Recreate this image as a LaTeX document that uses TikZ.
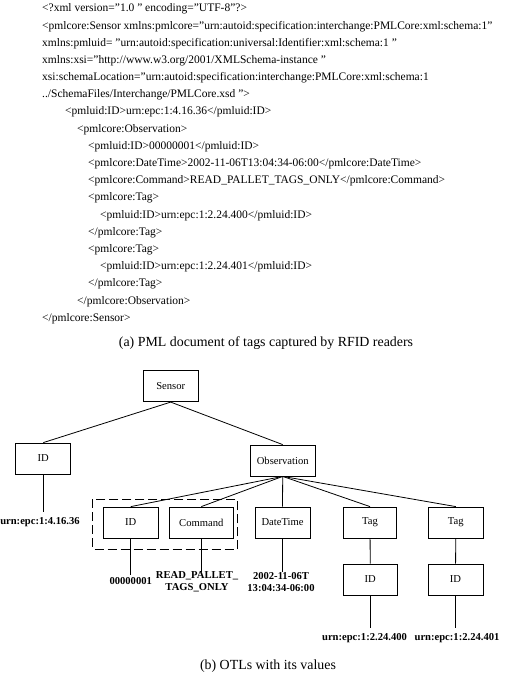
\documentclass[tikz,border=0pt]{standalone}
\usepackage{fontspec}
\setmainfont{Liberation Serif}
\usetikzlibrary{positioning}

\begin{document}
\begin{tikzpicture}[x=1pt,y=-1pt,
    xml/.style={anchor=west, inner sep=0pt, font=\fontsize{11.5}{13}\selectfont},
    box/.style={draw, line width=0.8pt, minimum width=55pt, minimum height=31pt, inner sep=0pt, font=\fontsize{10.6}{12}\selectfont},
    val/.style={align=center, inner sep=0pt, minimum height=20pt, font=\fontsize{10.6}{12}\selectfont\bfseries},
    link/.style={line width=0.8pt},
    captext/.style={font=\fontsize{13.9}{16}\selectfont}]
    \useasboundingbox (0,0) rectangle (508,676);

    % PML listing
    \node[xml] (l1) at (42,9) {<?xml version="1.0 " encoding="UTF-8"?>};
    \node[xml] (l2) at (42,26.2) {<pmlcore:Sensor xmlns:pmlcore="urn:autoid:specification:interchange:PMLCore:xml:schema:1"};
    \node[xml] (l3) at (42,43.4) {xmlns:pmluid= "urn:autoid:specification:universal:Identifier:xml:schema:1 "};
    \node[xml] (l4) at (42,60.6) {xmlns:xsi="http://www.w3.org/2001/XMLSchema-instance "};
    \node[xml] (l5) at (42,77.8) {xsi:schemaLocation="urn:autoid:specification:interchange:PMLCore:xml:schema:1};
    \node[xml] (l6) at (42,95) {../SchemaFiles/Interchange/PMLCore.xsd ">};
    \node[xml] (l7) at (65,112.2) {<pmluid:ID>urn:epc:1:4.16.36</pmluid:ID>};
    \node[xml] (l8) at (77,129.4) {<pmlcore:Observation>};
    \node[xml] (l9) at (88,146.6) {<pmluid:ID>00000001</pmluid:ID>};
    \node[xml] (l10) at (88,163.8) {<pmlcore:DateTime>2002-11-06T13:04:34-06:00</pmlcore:DateTime>};
    \node[xml] (l11) at (88,181) {<pmlcore:Command>READ\_PALLET\_TAGS\_ONLY</pmlcore:Command>};
    \node[xml] (l12) at (88,198.2) {<pmlcore:Tag>};
    \node[xml] (l13) at (100,215.4) {<pmluid:ID>urn:epc:1:2.24.400</pmluid:ID>};
    \node[xml] (l14) at (88,232.6) {</pmlcore:Tag>};
    \node[xml] (l15) at (88,249.8) {<pmlcore:Tag>};
    \node[xml] (l16) at (100,267) {<pmluid:ID>urn:epc:1:2.24.401</pmluid:ID>};
    \node[xml] (l17) at (88,284.2) {</pmlcore:Tag>};
    \node[xml] (l18) at (77,301.4) {</pmlcore:Observation>};
    \node[xml] (l19) at (42,318.6) {</pmlcore:Sensor>};
    \node[captext] (capa) at (266,342.7) {(a) PML document of tags captured by RFID readers};

    % OTL tree
    \node[box] (sensor) at (170.7,386.2) {Sensor};
    \node[box] (id) at (43.3,458.5) {ID};
    \node[box, minimum width=65pt] (obs) at (282.7,460.5) {Observation};
    \node[box] (oid) at (130.8,522.5) {ID};
    \node[box, minimum width=64pt] (cmd) at (201.3,522.5) {Command};
    \node[box] (dt) at (282.5,522.5) {DateTime};
    \node[box, minimum width=53pt] (tag1) at (370,522.5) {Tag};
    \node[box] (tag2) at (455.8,522.5) {Tag};
    \node[box, minimum width=54pt] (tid1) at (370.3,579.5) {ID};
    \node[box] (tid2) at (455.5,579.5) {ID};
    \draw[dashed, dash pattern=on 9pt off 4pt, line width=0.8pt] (92.7,499.3) rectangle (237.3,549.5);

    \draw[link] (sensor.south) -- (id.north);
    \draw[link] (sensor.south) -- (obs.north);
    \foreach \n in {oid, cmd, dt, tag1, tag2}
        \draw[link] (obs.south) -- (\n.north);
    \draw[link] (tag1) -- (tid1);
    \draw[link] (tag2) -- (tid2);

    % Values
    \node[val] (vid) at (40,522.3) {urn:epc:1:4.16.36};
    \node[val, minimum height=12pt] (void) at (130.7,581) {00000001};
    \node[val] (vcmd) at (197,582) {READ\_PALLET\_\\TAGS\_ONLY};
    \node[val] (vdt) at (281,582) {2002-11-06T\\13:04:34-06:00};
    \node[val] (vt1) at (364.5,638.3) {urn:epc:1:2.24.400};
    \node[val] (vt2) at (457,638.3) {urn:epc:1:2.24.401};
    \draw[link] (id.south) -- (id.south |- vid.north);
    \draw[link] (oid.south) -- (oid.south |- void.north);
    \draw[link] (cmd.south) -- (cmd.south |- vcmd.north);
    \draw[link] (dt.south) -- (dt.south |- vdt.north);
    \draw[link] (tid1.south) -- (tid1.south |- vt1.north);
    \draw[link] (tid2.south) -- (tid2.south |- vt2.north);

    \node[captext] (capb) at (268,666) {(b) OTLs with its values};
\end{tikzpicture}
\end{document}
